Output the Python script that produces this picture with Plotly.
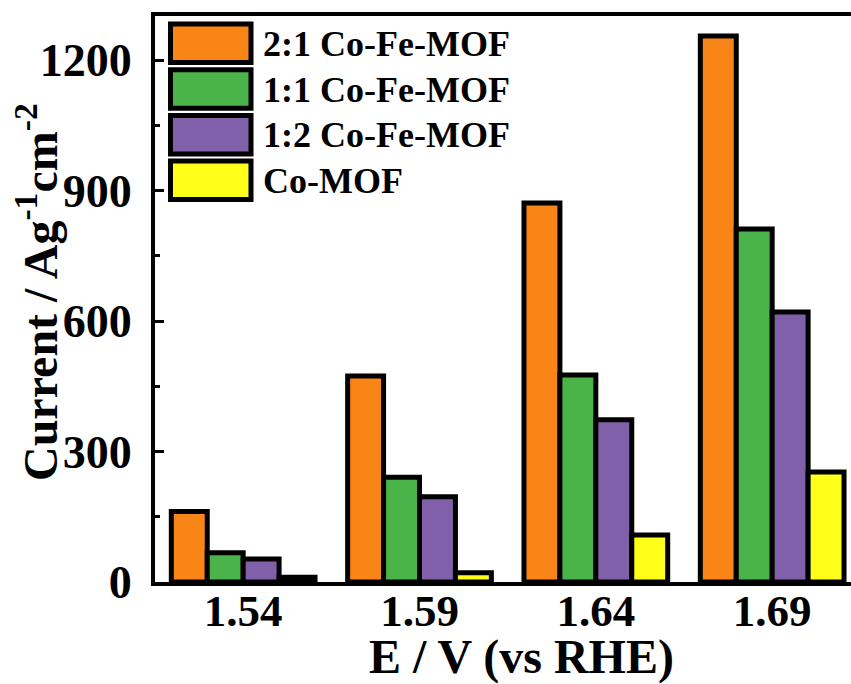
import plotly.graph_objects as go

# Potentials (V vs RHE) and current density for each catalyst
potentials = ["1.54", "1.59", "1.64", "1.69"]
series_names = ["2:1 Co-Fe-MOF", "1:1 Co-Fe-MOF", "1:2 Co-Fe-MOF", "Co-MOF"]
co_fe_2_1 = [162, 474, 872, 1256]
co_fe_1_1 = [67, 241, 476, 812]
co_fe_1_2 = [53, 196, 373, 621]
co_mof = [11, 21, 108, 253]
series_values = [co_fe_2_1, co_fe_1_1, co_fe_1_2, co_mof]
colors = ["#F98517", "#4AB34A", "#8060A8", "#FFFF1A"]

W, H = 851, 684
ML, MR, MT, MB = 155, 0, 16, 102
PW, PH = W - ML - MR, H - MT - MB

FONT = "Liberation Serif"


def px_x(px):
    return (px - ML) / PW


def px_y(py):
    return (H - MB - py) / PH


fig = go.Figure()
for name, vals, col in zip(series_names, series_values, colors):
    fig.add_trace(go.Bar(
        x=potentials, y=vals, name=name,
        marker=dict(color=col, line=dict(color="black", width=5)),
        showlegend=False,
    ))

# Custom legend: large outlined swatches with labels
row_h = 45.7
for i, (name, col) in enumerate(zip(series_names, colors)):
    top = 24 + i * row_h
    fig.add_shape(type="rect", xref="paper", yref="paper",
                  x0=px_x(170.5), x1=px_x(251), y0=px_y(top), y1=px_y(top + 38.5),
                  fillcolor=col, line=dict(color="black", width=5), layer="above")
    fig.add_annotation(xref="paper", yref="paper", x=px_x(261), y=px_y(top + 20),
                       text=name, showarrow=False, xanchor="left", yanchor="middle",
                       font=dict(family=FONT, size=36, color="black", weight="bold"))

# Axis titles
fig.add_annotation(xref="paper", yref="paper", x=px_x(521), y=px_y(657),
                   text="E / V (vs RHE)", showarrow=False,
                   xanchor="center", yanchor="middle",
                   font=dict(family=FONT, size=48, color="black", weight="bold"))
fig.add_annotation(xref="paper", yref="paper", x=px_x(37), y=px_y(292),
                   text="Current / Ag<sup>-1</sup>cm<sup>-2</sup>", showarrow=False,
                   textangle=-90, xanchor="center", yanchor="middle",
                   font=dict(family=FONT, size=48, color="black", weight="bold"))

fig.update_layout(
    width=W, height=H,
    margin=dict(l=ML, r=MR, t=MT, b=MB, pad=0),
    paper_bgcolor="white", plot_bgcolor="white",
    barmode="group", bargap=0.185, bargroupgap=0,
    font=dict(family=FONT, color="black"),
)
fig.update_xaxes(
    type="category", range=[-0.5, 3.447],
    showline=True, linecolor="black", linewidth=4, mirror=True,
    ticks="", showgrid=False, zeroline=False, ticklabelstandoff=-14,
    tickfont=dict(family=FONT, size=45, color="black", weight="bold"),
)
fig.update_yaxes(
    range=[0, 1302], tickvals=[0, 300, 600, 900, 1200],
    showline=True, linecolor="black", linewidth=4,
    ticks="inside", ticklen=9, tickwidth=3, tickcolor="black",
    minor=dict(ticks="inside", ticklen=5, tickwidth=3, tickcolor="black",
               tickvals=[150, 450, 750, 1050]),
    showgrid=False, zeroline=False, ticklabelstandoff=10,
    tickfont=dict(family=FONT, size=46, color="black", weight="bold"),
)

fig.write_html("out.html")
